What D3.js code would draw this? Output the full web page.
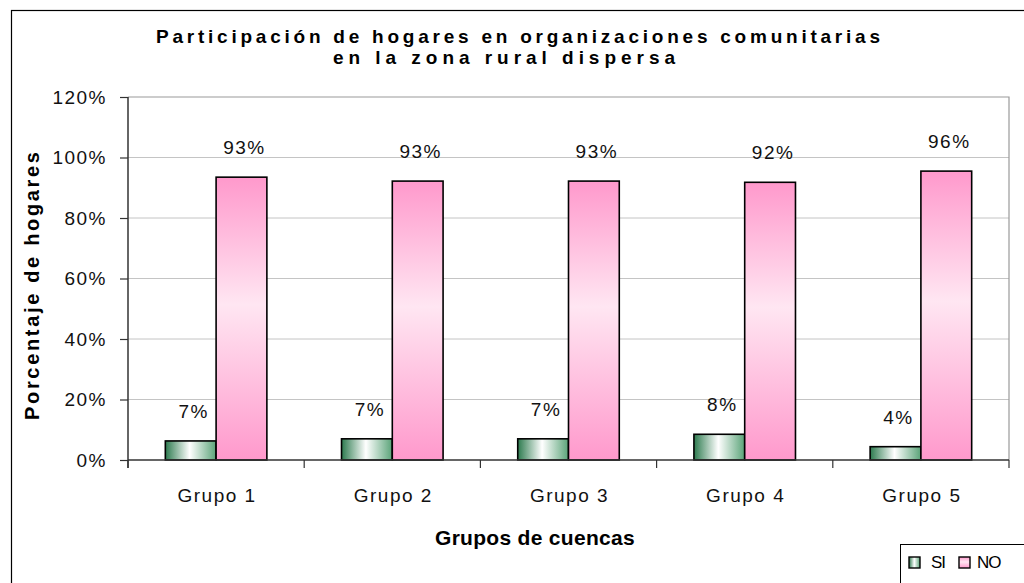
<!DOCTYPE html>
<html>
<head>
<meta charset="utf-8">
<script src="https://cdn.jsdelivr.net/npm/d3@7"></script>
<style>
  body { margin: 0; background: #fff; }
  svg { display: block; font-family: "Liberation Sans", Arial, sans-serif; }
</style>
</head>
<body>
<svg width="1024" height="583"></svg>
<script>
// data
const grupos = ["Grupo 1", "Grupo 2", "Grupo 3", "Grupo 4", "Grupo 5"];
const series = ["SI", "NO"];
const valoresSI = [6.3, 7.0, 7.0, 8.5, 4.4];
const valoresNO = [93.5, 92.2, 92.2, 91.8, 95.5];
const etiquetasSI = ["7%", "7%", "7%", "8%", "4%"];
const etiquetasNO = ["93%", "93%", "93%", "92%", "96%"];
const yTicks = [0, 20, 40, 60, 80, 100, 120];

const svg = d3.select("svg");
const width = 1024, height = 583;

// plot area
const plotLeft = 128, plotRight = 1009, plotTop = 97, plotBottom = 460;

const x0 = d3.scaleBand().domain(grupos).range([plotLeft, plotRight]).padding(0);
const x1 = d3.scaleBand().domain(series).range([0, x0.bandwidth()]).paddingInner(0).paddingOuter(0.735);
const y = d3.scaleLinear().domain([0, 120]).range([plotBottom, plotTop]);

// gradients
const defs = svg.append("defs");
const gSI = defs.append("linearGradient").attr("id", "gradSI")
    .attr("x1", "0%").attr("x2", "100%").attr("y1", "0%").attr("y2", "0%");
gSI.append("stop").attr("offset", "0%").attr("stop-color", "#2c7a4e");
gSI.append("stop").attr("offset", "48%").attr("stop-color", "#ffffff");
gSI.append("stop").attr("offset", "100%").attr("stop-color", "#5aa378");

const gNO = defs.append("linearGradient").attr("id", "gradNO")
    .attr("x1", "0%").attr("x2", "0%").attr("y1", "0%").attr("y2", "100%");
gNO.append("stop").attr("offset", "0%").attr("stop-color", "#ff99cc");
gNO.append("stop").attr("offset", "45%").attr("stop-color", "#ffe6f2");
gNO.append("stop").attr("offset", "100%").attr("stop-color", "#ff99cc");

const color = { SI: "url(#gradSI)", NO: "url(#gradNO)" };

// outer chart border
svg.append("rect")
    .attr("x", 11.5).attr("y", 10.5)
    .attr("width", width + 20).attr("height", height + 20)
    .attr("fill", "none").attr("stroke", "#000").attr("stroke-width", 1.2);

// gridlines
svg.append("g").selectAll("line")
    .data(yTicks.filter(d => d > 0 && d < 120))
    .join("line")
    .attr("x1", plotLeft).attr("x2", plotRight)
    .attr("y1", d => y(d)).attr("y2", d => y(d))
    .attr("stroke", "#c4c4c4").attr("stroke-width", 1);

// plot frame (top + right)
svg.append("path")
    .attr("d", `M${plotLeft},${y(120)}H${plotRight}V${plotBottom}`)
    .attr("fill", "none").attr("stroke", "#9a9a9a").attr("stroke-width", 1.2);

// y axis
const yAxis = svg.append("g")
    .attr("transform", `translate(${plotLeft},0)`)
    .call(d3.axisLeft(y).tickValues(yTicks).tickSize(8).tickPadding(13).tickFormat(d => d + "%"));
yAxis.select(".domain").remove();
yAxis.selectAll(".tick line").attr("stroke", "#333").attr("stroke-width", 1.2);
yAxis.selectAll(".tick text")
    .attr("fill", "#111")
    .style("font-size", "19px")
    .style("letter-spacing", "1.5px")
    .style("font-family", "'Liberation Sans', Arial, sans-serif");

svg.append("line")
    .attr("x1", plotLeft).attr("x2", plotLeft).attr("y1", y(120)).attr("y2", plotBottom + 8)
    .attr("stroke", "#333").attr("stroke-width", 1.5);

// bars
const groups = svg.append("g").selectAll("g")
    .data(grupos)
    .join("g")
    .attr("transform", d => `translate(${x0(d)},0)`);

function barData(d, i) {
    return [
        { s: "SI", v: valoresSI[i], label: etiquetasSI[i] },
        { s: "NO", v: valoresNO[i], label: etiquetasNO[i] }
    ];
}

groups.selectAll("rect")
    .data(barData)
    .join("rect")
    .attr("x", d => x1(d.s))
    .attr("y", d => y(d.v))
    .attr("width", x1.bandwidth())
    .attr("height", d => y(0) - y(d.v))
    .attr("fill", d => color[d.s])
    .attr("stroke", "#000")
    .attr("stroke-width", 1.6);

groups.selectAll("text.val")
    .data(barData)
    .join("text")
    .attr("class", "val")
    .attr("x", d => x1(d.s) + x1.bandwidth() / 2 + 3)
    .attr("y", d => y(d.v) - 23)
    .attr("text-anchor", "middle")
    .attr("fill", "#111")
    .style("font-size", "19px")
    .style("letter-spacing", "1.5px")
    .text(d => d.label);

// x axis line and ticks between groups
svg.append("line")
    .attr("x1", plotLeft).attr("x2", plotRight).attr("y1", plotBottom).attr("y2", plotBottom)
    .attr("stroke", "#333").attr("stroke-width", 1.5);

svg.append("g").selectAll("line")
    .data(grupos.map(g => x0(g)).concat([plotRight]))
    .join("line")
    .attr("x1", d => d).attr("x2", d => d)
    .attr("y1", plotBottom).attr("y2", plotBottom + 8)
    .attr("stroke", "#333").attr("stroke-width", 1.2);

svg.append("g").selectAll("text")
    .data(grupos)
    .join("text")
    .attr("x", d => x0(d) + x0.bandwidth() / 2 + 1)
    .attr("y", 502)
    .attr("text-anchor", "middle")
    .attr("fill", "#111")
    .style("font-size", "19px")
    .style("letter-spacing", "1.5px")
    .text(d => d);

// titles
svg.append("text")
    .attr("x", 156).attr("y", 43)
    .attr("textLength", 724).attr("lengthAdjust", "spacing")
    .style("font-size", "19px").style("font-weight", "bold")
    .text("Participación de hogares en organizaciones comunitarias");

svg.append("text")
    .attr("x", 333).attr("y", 64)
    .attr("textLength", 342).attr("lengthAdjust", "spacing")
    .style("font-size", "19px").style("font-weight", "bold")
    .text("en la zona rural dispersa");

svg.append("text")
    .attr("transform", "translate(39,420) rotate(-90)")
    .attr("x", 0).attr("y", 0)
    .attr("textLength", 268).attr("lengthAdjust", "spacing")
    .style("font-size", "20px").style("font-weight", "bold")
    .text("Porcentaje de hogares");

svg.append("text")
    .attr("x", 535).attr("y", 545)
    .attr("text-anchor", "middle")
    .style("font-size", "21px").style("font-weight", "bold")
    .style("letter-spacing", "0.3px")
    .text("Grupos de cuencas");

// legend
const legend = svg.append("g").attr("transform", "translate(900,544)");
legend.append("rect")
    .attr("x", 0.5).attr("y", 0.5).attr("width", 140).attr("height", 60)
    .attr("fill", "#fff").attr("stroke", "#000").attr("stroke-width", 1);

const legendItems = [
    { s: "SI", sx: 9, tx: 31 },
    { s: "NO", sx: 59, tx: 77 }
];
legend.selectAll("rect.sw")
    .data(legendItems)
    .join("rect")
    .attr("class", "sw")
    .attr("x", d => d.sx).attr("y", 13)
    .attr("width", 11).attr("height", 11)
    .attr("fill", d => color[d.s])
    .attr("stroke", "#000").attr("stroke-width", 1.4);
legend.selectAll("text")
    .data(legendItems)
    .join("text")
    .attr("x", d => d.tx).attr("y", 24)
    .style("font-size", "17px")
    .style("letter-spacing", "-1px")
    .text(d => d.s);
</script>
</body>
</html>
